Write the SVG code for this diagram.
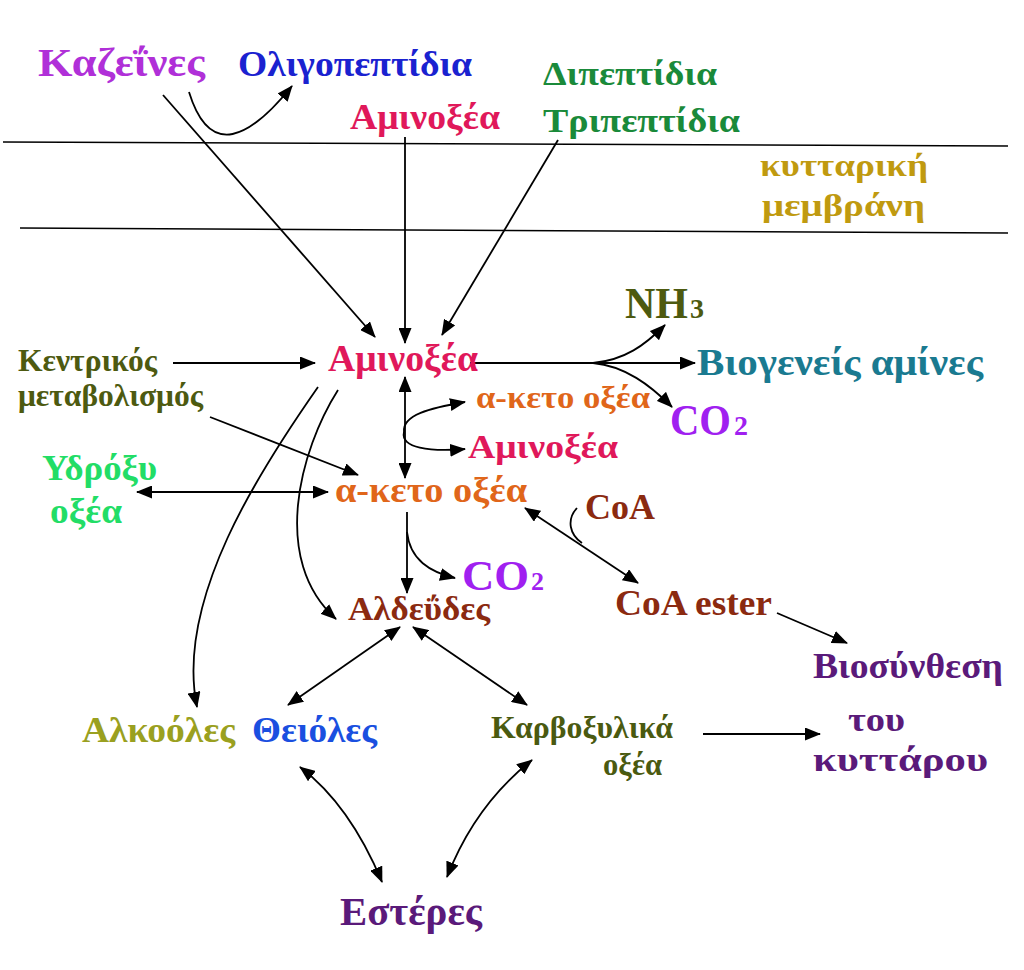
<svg xmlns="http://www.w3.org/2000/svg" width="1024" height="970" viewBox="0 0 1024 970">
<defs>
<marker id="ah" markerUnits="userSpaceOnUse" markerWidth="16" markerHeight="13" viewBox="0 0 16 13" refX="15" refY="6.5" orient="auto-start-reverse">
<path d="M0,0 L16,6.5 L0,13 z" fill="#000"/>
</marker>
</defs>
<style>
text{font-family:"Liberation Serif","Times New Roman",serif;font-weight:bold}
.c path,.c line{fill:none;stroke:#000;stroke-width:1.8}
.e{marker-end:url(#ah)}
.b{marker-start:url(#ah);marker-end:url(#ah)}
.mem{stroke:#000;stroke-width:1.6}
</style>
<rect width="1024" height="970" fill="#fff"/>
<g id="membrane">
<line class="mem" x1="3" y1="142" x2="1008" y2="146"/>
<line class="mem" x1="20" y1="228" x2="1008" y2="233"/>
</g>
<g class="c" id="connectors">
<path class="e" d="M189,92 C210,160 250,138 292,86"/>
<line class="e" x1="163" y1="95" x2="375" y2="337"/>
<line class="e" x1="405" y1="137" x2="405" y2="343"/>
<line class="e" x1="558" y1="140" x2="442" y2="335"/>
<line class="e" x1="173" y1="363" x2="315" y2="363"/>
<line class="e" x1="210" y1="417" x2="358" y2="475"/>
<line class="e" x1="470" y1="363" x2="695" y2="363"/>
<path class="e" d="M593,363 C625,360 645,345 665,325"/>
<path class="e" d="M593,363 C625,366 650,385 672,407"/>
<line class="b" x1="405" y1="377" x2="405" y2="478"/>
<path class="e" d="M404,432 C402,415 430,408 465,402"/>
<path class="e" d="M404,432 C400,448 430,452 465,449"/>
<line class="b" x1="137" y1="492" x2="328" y2="492"/>
<line class="e" x1="407" y1="512" x2="407" y2="593"/>
<path class="e" d="M407,532 C410,560 430,572 455,578"/>
<line class="b" x1="525" y1="508" x2="638" y2="583"/>
<path d="M577,508 C566,520 570,535 582,543"/>
<line class="e" x1="777" y1="613" x2="847" y2="643"/>
<line class="e" x1="703" y1="734" x2="820" y2="734"/>
<path class="e" d="M318,387 C260,470 175,600 197,707"/>
<path class="e" d="M338,390 C300,450 270,560 336,619"/>
<line class="b" x1="400" y1="627" x2="288" y2="705"/>
<line class="b" x1="413" y1="627" x2="527" y2="705"/>
<path class="b" d="M300,767 Q350,805 382,882"/>
<path class="b" d="M532,760 Q475,805 447,877"/>
</g>
<g id="kazeines"><text x="38" y="76" font-size="39" fill="#b030d8" textLength="167" lengthAdjust="spacingAndGlyphs">Καζεΐνες</text></g>
<g id="oligopeptidia"><text x="238" y="76" font-size="35" fill="#1a22d0" textLength="234" lengthAdjust="spacingAndGlyphs">Ολιγοπεπτίδια</text></g>
<g id="aminoxea-out"><text x="350" y="129" font-size="36" fill="#e0185a" textLength="150" lengthAdjust="spacingAndGlyphs">Αμινοξέα</text></g>
<g id="dipeptidia"><text x="543" y="85" font-size="34" fill="#1a8a3a" textLength="174" lengthAdjust="spacingAndGlyphs">Διπεπτίδια</text>
<text x="543" y="132" font-size="34" fill="#1a8a3a" textLength="197" lengthAdjust="spacingAndGlyphs">Τριπεπτίδια</text></g>
<g id="membrane-label"><text x="760" y="176" font-size="32" fill="#c09a10" textLength="168" lengthAdjust="spacingAndGlyphs">κυτταρική</text>
<text x="762" y="216" font-size="32" fill="#c09a10" textLength="163" lengthAdjust="spacingAndGlyphs">μεμβράνη</text></g>
<g id="nh3"><text x="625" y="318" font-size="44" fill="#4d5a10" textLength="63" lengthAdjust="spacingAndGlyphs">NH</text>
<text x="690" y="318" font-size="28" fill="#4d5a10">3</text></g>
<g id="kentrikos"><text x="18" y="371" font-size="31" fill="#4d5a10" textLength="139" lengthAdjust="spacingAndGlyphs">Κεντρικός</text>
<text x="18" y="406" font-size="31" fill="#4d5a10" textLength="185" lengthAdjust="spacingAndGlyphs">μεταβολισμός</text></g>
<g id="aminoxea"><text x="328" y="371" font-size="38" fill="#e0185a" textLength="150" lengthAdjust="spacingAndGlyphs">Αμινοξέα</text></g>
<g id="biogeneis"><text x="697" y="375" font-size="38" fill="#1a7a90" textLength="286" lengthAdjust="spacingAndGlyphs">Βιογενείς αμίνες</text></g>
<g id="keto-side"><text x="476" y="408" font-size="32" fill="#e0661a" textLength="174" lengthAdjust="spacingAndGlyphs">α-κετο οξέα</text></g>
<g id="co2-a"><text x="670" y="435" font-size="44" fill="#a020f0" textLength="61" lengthAdjust="spacingAndGlyphs">CO</text>
<text x="734" y="435" font-size="28" fill="#a020f0">2</text></g>
<g id="aminoxea-side"><text x="468" y="458" font-size="34" fill="#e0185a" textLength="150" lengthAdjust="spacingAndGlyphs">Αμινοξέα</text></g>
<g id="ydroxy"><text x="42" y="480" font-size="36" fill="#22dd66" textLength="115" lengthAdjust="spacingAndGlyphs">Υδρόξυ</text>
<text x="50" y="523" font-size="36" fill="#22dd66" textLength="72" lengthAdjust="spacingAndGlyphs">οξέα</text></g>
<g id="keto"><text x="335" y="502" font-size="36" fill="#e0661a" textLength="192" lengthAdjust="spacingAndGlyphs">α-κετο οξέα</text></g>
<g id="coa"><text x="585" y="519" font-size="35" fill="#8b2a10" textLength="70" lengthAdjust="spacingAndGlyphs">CoA</text></g>
<g id="co2-b"><text x="462" y="590" font-size="42" fill="#a020f0" textLength="67" lengthAdjust="spacingAndGlyphs">CO</text>
<text x="531" y="590" font-size="26" fill="#a020f0">2</text></g>
<g id="aldehydes"><text x="348" y="620" font-size="34" fill="#8b2a10" textLength="142" lengthAdjust="spacingAndGlyphs">Αλδεΰδες</text></g>
<g id="coa-ester"><text x="615" y="615" font-size="36" fill="#8b2a10" textLength="157" lengthAdjust="spacingAndGlyphs">CoA ester</text></g>
<g id="biosynthesis"><text x="813" y="678" font-size="36" fill="#5a1a7a" textLength="190" lengthAdjust="spacingAndGlyphs">Βιοσύνθεση</text>
<text x="848" y="731" font-size="34" fill="#5a1a7a" textLength="57" lengthAdjust="spacingAndGlyphs">του</text>
<text x="813" y="771" font-size="34" fill="#5a1a7a" textLength="175" lengthAdjust="spacingAndGlyphs">κυττάρου</text></g>
<g id="alcohols"><text x="82" y="742" font-size="36" fill="#9aa020" textLength="153" lengthAdjust="spacingAndGlyphs">Αλκοόλες</text></g>
<g id="thiols"><text x="252" y="742" font-size="36" fill="#1a4fe0" textLength="125" lengthAdjust="spacingAndGlyphs">Θειόλες</text></g>
<g id="carboxylic"><text x="491" y="738" font-size="31" fill="#4a5a10" textLength="182" lengthAdjust="spacingAndGlyphs">Καρβοξυλικά</text>
<text x="603" y="775" font-size="31" fill="#4a5a10" textLength="59" lengthAdjust="spacingAndGlyphs">οξέα</text></g>
<g id="esters"><text x="340" y="925" font-size="40" fill="#5a1a7a" textLength="142" lengthAdjust="spacingAndGlyphs">Εστέρες</text></g>
</svg>
